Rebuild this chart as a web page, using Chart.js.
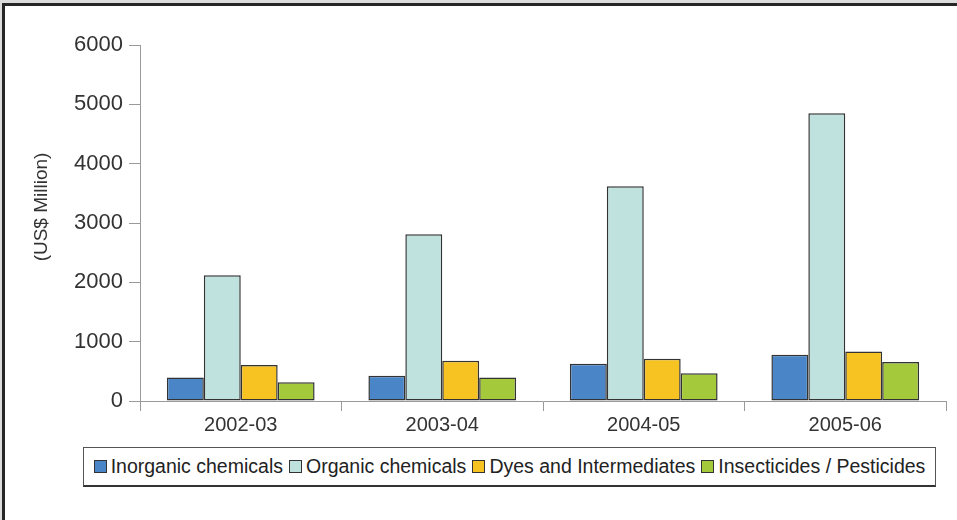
<!DOCTYPE html>
<html>
<head>
<meta charset="utf-8">
<script src="https://cdn.jsdelivr.net/npm/chart.js@4.4.1/dist/chart.umd.min.js"></script>
<style>
  html, body { margin: 0; padding: 0; background: #ffffff; }
  #stage { position: relative; width: 957px; height: 520px; overflow: hidden; background: #dcdcdc; }
  #frame { position: absolute; left: 2px; top: 3px; right: 0; bottom: 0;
           border-top: 3px solid #262626; border-left: 3px solid #262626; background: #ffffff; }
  #chart { position: absolute; left: 0; top: 0; }
  #legend { position: absolute; left: 83px; top: 447px; width: 851px; height: 37px;
            border: 1px solid #555; border-bottom: 2px solid #333; background: #fff;
            display: flex; align-items: center; justify-content: center;
            font-family: "Liberation Sans", Arial, sans-serif; font-size: 19.5px; color: #222;
            white-space: nowrap; }
  #legend .item { display: flex; align-items: center; margin-right: 6px; }
  #legend .item:last-child { margin-right: 0; }
  #legend .swatch { width: 11px; height: 11px; border: 1px solid #333; margin-right: 4px; }
</style>
</head>
<body>
<div id="stage">
  <div id="frame"></div>
  <canvas id="chart" width="957" height="520"></canvas>
  <div id="legend"></div>
</div>
<script>
// Chemical exports by group, US$ million
const years = ['2002-03', '2003-04', '2004-05', '2005-06'];
const inorganic = [395, 424, 627, 780];
const organic = [2120, 2810, 3620, 4850];
const dyes = [605, 678, 712, 836];
const insecticides = [317, 395, 469, 656];
const seriesNames = ['Inorganic chemicals', 'Organic chemicals', 'Dyes and Intermediates', 'Insecticides / Pesticides'];
const yTitle = '(US$ Million)';

const fills = ['#4a86c7', '#bfe2de', '#f6c322', '#a4ca3c'];
const FONT = '"Liberation Sans", Arial, sans-serif';

// Rotated axis title drawn beside the value axis
const yTitlePlugin = {
  id: 'yTitle',
  afterDraw(chart) {
    const ctx = chart.ctx;
    ctx.save();
    ctx.translate(42, 207);
    ctx.rotate(-Math.PI / 2);
    ctx.font = '19px ' + FONT;
    ctx.fillStyle = '#333';
    ctx.textAlign = 'center';
    ctx.textBaseline = 'middle';
    ctx.fillText(yTitle, 0, 0);
    ctx.restore();
  }
};

const chart = new Chart(document.getElementById('chart'), {
  type: 'bar',
  data: {
    labels: years,
    datasets: [inorganic, organic, dyes, insecticides].map((values, i) => ({
      label: seriesNames[i],
      data: values,
      backgroundColor: fills[i],
      borderColor: '#333333',
      borderWidth: 1.5,
      borderSkipped: false,
      barPercentage: 1.0,
      categoryPercentage: 0.733
    }))
  },
  options: {
    responsive: false,
    animation: false,
    devicePixelRatio: 1,
    layout: { padding: { left: 0, right: 11, top: 45, bottom: 0 } },
    plugins: {
      legend: { display: false },
      tooltip: { enabled: false }
    },
    scales: {
      x: {
        offset: true,
        grid: { offset: true, drawOnChartArea: false, drawTicks: true, tickLength: 10, color: '#9a9a9a' },
        border: { display: true, color: '#9a9a9a', width: 1 },
        ticks: { font: { family: FONT, size: 20 }, color: '#333', padding: 2, maxRotation: 0 },
        afterFit(scale) { scale.height = 119; }
      },
      y: {
        min: 0,
        max: 6000,
        ticks: {
          stepSize: 1000,
          font: { family: FONT, size: 22 },
          color: '#333',
          padding: 6,
          callback: v => String(v)
        },
        grid: { drawOnChartArea: false, drawTicks: true, tickLength: 11, color: '#9a9a9a' },
        border: { display: true, color: '#9a9a9a', width: 1 },
        afterFit(scale) { scale.width = 140; }
      }
    }
  },
  plugins: [yTitlePlugin]
});

// Boxed legend row built from the chart's datasets
const legendEl = document.getElementById('legend');
chart.data.datasets.forEach(ds => {
  const item = document.createElement('div');
  item.className = 'item';
  const sw = document.createElement('span');
  sw.className = 'swatch';
  sw.style.background = ds.backgroundColor;
  const txt = document.createElement('span');
  txt.textContent = ds.label;
  item.appendChild(sw);
  item.appendChild(txt);
  legendEl.appendChild(item);
});
</script>
</body>
</html>
